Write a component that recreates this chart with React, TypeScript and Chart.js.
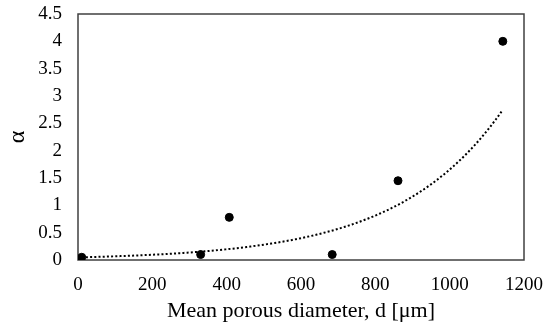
import React, { useEffect, useRef } from "react";
import { Chart, registerables } from "chart.js";

Chart.register(...registerables);

// Measured porosity data
const diameters = [10, 330, 407, 684, 861, 1143];
const alphaValues = [0.05, 0.1, 0.78, 0.1, 1.45, 4.0];

const xTicks = [0, 200, 400, 600, 800, 1000, 1200];
const yTicks = [0, 0.5, 1, 1.5, 2, 2.5, 3, 3.5, 4, 4.5];

const FONT = "'Liberation Serif', 'Times New Roman', serif";
const AXIS_COLOR = "#404040";

// Exponential least-squares trendline y = a * exp(b x), fitted on ln(y)
function expFit(xs: number[], ys: number[]) {
  const n = xs.length;
  const ls = ys.map((v) => Math.log(v));
  const mx = xs.reduce((s, v) => s + v, 0) / n;
  const ml = ls.reduce((s, v) => s + v, 0) / n;
  let sxy = 0;
  let sxx = 0;
  for (let i = 0; i < n; i++) {
    sxy += (xs[i] - mx) * (ls[i] - ml);
    sxx += (xs[i] - mx) * (xs[i] - mx);
  }
  const b = sxy / sxx;
  const a = Math.exp(ml - b * mx);
  return { a, b };
}

const framePlugin = {
  id: "frame",
  beforeDatasetsDraw(chart: any) {
    const { ctx, chartArea } = chart;
    ctx.save();
    ctx.strokeStyle = AXIS_COLOR;
    ctx.lineWidth = 1.5;
    ctx.strokeRect(chartArea.left, chartArea.top, chartArea.right - chartArea.left, chartArea.bottom - chartArea.top);
    ctx.restore();
  },
};

export default function App() {
  const canvasRef = useRef<HTMLCanvasElement | null>(null);

  useEffect(() => {
    if (!canvasRef.current) return;
    const { a, b } = expFit(diameters, alphaValues);
    const x0 = Math.min(...diameters);
    const x1 = Math.max(...diameters);
    const trend: { x: number; y: number }[] = [];
    const steps = 120;
    for (let i = 0; i <= steps; i++) {
      const x = x0 + ((x1 - x0) * i) / steps;
      trend.push({ x, y: a * Math.exp(b * x) });
    }

    const chart = new Chart(canvasRef.current, {
      type: "scatter",
      data: {
        datasets: [
          {
            type: "line",
            label: "Expon. fit",
            data: trend,
            borderColor: "#000000",
            borderWidth: 2,
            borderDash: [2, 2.2],
            pointRadius: 0,
            fill: false,
            tension: 0,
          } as any,
          {
            label: "α",
            data: diameters.map((d, i) => ({ x: d, y: alphaValues[i] })),
            backgroundColor: "#000000",
            borderColor: "#000000",
            pointRadius: 4,
            pointHoverRadius: 4,
          },
        ],
      },
      options: {
        animation: false,
        responsive: false,
        maintainAspectRatio: false,
        layout: { padding: 0 },
        plugins: {
          legend: { display: false },
          tooltip: { enabled: false },
        },
        scales: {
          x: {
            type: "linear",
            min: 0,
            max: 1200,
            afterBuildTicks: (scale: any) => {
              scale.ticks = xTicks.map((v) => ({ value: v }));
            },
            afterFit: (scale: any) => {
              scale.height = 69;
              scale.paddingLeft = 0;
              scale.paddingRight = 20;
            },
            grid: { display: false, drawTicks: false },
            border: { display: false },
            ticks: {
              color: "#000000",
              padding: 14,
              maxRotation: 0,
              font: { family: FONT, size: 19 },
              callback: (v: any) => String(v),
            },
            title: {
              display: true,
              text: "Mean porous diameter, d [μm]",
              color: "#000000",
              font: { family: FONT, size: 22 },
              padding: { top: 0, bottom: 5 },
            },
          },
          y: {
            type: "linear",
            min: 0,
            max: 4.5,
            afterBuildTicks: (scale: any) => {
              scale.ticks = yTicks.map((v) => ({ value: v }));
            },
            afterFit: (scale: any) => {
              scale.width = 78;
              scale.paddingTop = 14;
              scale.paddingBottom = 0;
            },
            grid: { display: false, drawTicks: false },
            border: { display: false },
            ticks: {
              color: "#000000",
              padding: 16,
              font: { family: FONT, size: 19 },
              callback: (v: any) => String(v),
            },
            title: {
              display: true,
              text: "α",
              color: "#000000",
              font: { family: FONT, size: 24 },
              padding: { top: 3, bottom: 0 },
            },
          },
        },
      },
      plugins: [framePlugin],
    });
    return () => chart.destroy();
  }, []);

  return (
    <div style={{ position: "fixed", left: 0, top: 0, width: 544, height: 329, background: "#ffffff" }}>
      <canvas ref={canvasRef} width={544} height={329} style={{ display: "block" }} />
    </div>
  );
}
